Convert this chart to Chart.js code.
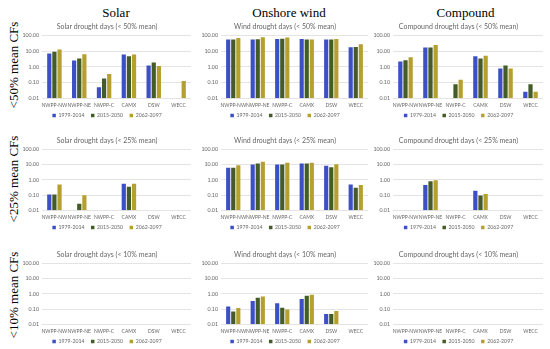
<!DOCTYPE html>
<html>
<head>
<meta charset="utf-8">
<script src="https://cdn.jsdelivr.net/npm/chart.js@4.4.0/dist/chart.umd.min.js"></script>
<style>
  html, body { margin:0; padding:0; background:#fff; }
  body { width:550px; height:349px; position:relative; overflow:hidden; }
  .colt { position:absolute; font-family:"Liberation Serif", serif; font-size:13px; color:#000; white-space:nowrap; transform:translate(-50%,-50%); }
  .rowt { position:absolute; font-family:"Liberation Serif", serif; font-size:13px; color:#000; white-space:nowrap; width:120px; height:16px; line-height:16px; text-align:center; transform:rotate(-90deg); }
  .panel { position:absolute; }
</style>
</head>
<body>
<script>
// ---- data ----
const categories = ['NWPP-NW', 'NWPP-NE', 'NWPP-C', 'CAMX', 'DSW', 'WECC'];
const periods = ['1979-2014', '2015-2050', '2062-2097'];
const yTickValues = [0.01, 0.1, 1, 10, 100];
const columnTitles = ['Solar', 'Onshore wind', 'Compound'];
const rowTitles = ['<50% mean CFs', '<25% mean CFs', '<10% mean CFs'];

const solar50_p1 = [7.2, 2.6, 0.05, 6.2, 1.25, null];
const solar50_p2 = [9.2, 3.5, 0.18, 4.9, 1.9, null];
const solar50_p3 = [12.9, 6.5, 0.35, 6.2, 1.13, 0.126];

const wind50_p1 = [56, 56, 61, 61, 56, 18];
const wind50_p2 = [56, 58, 64, 56, 56, 19];
const wind50_p3 = [71, 78, 75, 56, 61, 28];

const comp50_p1 = [2.2, 17.3, null, 4.9, 0.8, 0.026];
const comp50_p2 = [2.7, 17.3, 0.078, 3.5, 1.25, 0.078];
const comp50_p3 = [4.2, 25.6, 0.153, 5.1, 0.8, 0.026];

const solar25_p1 = [0.112, null, null, 0.56, null, null];
const solar25_p2 = [0.11, 0.027, null, 0.36, null, null];
const solar25_p3 = [0.51, 0.10, null, 0.56, null, null];

const wind25_p1 = [6.3, 10.4, 10.4, 12, 8.5, 0.51];
const wind25_p2 = [6.3, 12.1, 10.4, 12, 6.9, 0.31];
const wind25_p3 = [9.4, 15.6, 13.4, 13.8, 10.9, 0.46];

const comp25_p1 = [null, 0.46, null, 0.195, null, null];
const comp25_p2 = [null, 0.83, null, 0.096, null, null];
const comp25_p3 = [null, 0.97, null, 0.118, null, null];

const solar10_p1 = [null, null, null, null, null, null];
const solar10_p2 = [null, null, null, null, null, null];
const solar10_p3 = [null, null, null, null, null, null];

const wind10_p1 = [0.15, 0.34, 0.24, 0.46, 0.048, null];
const wind10_p2 = [0.071, 0.56, 0.124, 0.76, 0.048, null];
const wind10_p3 = [0.117, 0.69, 0.096, 0.88, 0.075, null];

const comp10_p1 = [null, null, null, null, null, null];
const comp10_p2 = [null, null, null, null, null, null];
const comp10_p3 = [null, null, null, null, null, null];

// ---- layout / style ----
const colors = ['#3d4fc4', '#445c27', '#b5a02f'];
const FONT = 'Lato, "Open Sans", sans-serif';
const colL = [42, 221, 392.5], colR = [191, 368, 542.5], colC = [109, 285, 460];
const rowT = [35.3, 150, 263.3], rowB = [98.3, 211, 324.3];
const colTitleX = [116, 289, 465.5];
const rowTitleY = [65, 179, 295];
const LEGEND_SHIFT = 3;

columnTitles.forEach((t, i) => {
  const d = document.createElement('div'); d.className = 'colt'; d.textContent = t;
  d.style.left = colTitleX[i] + 'px'; d.style.top = '13px'; document.body.appendChild(d);
});
rowTitles.forEach((t, i) => {
  const d = document.createElement('div'); d.className = 'rowt'; d.textContent = t;
  d.style.left = (14 - 60) + 'px'; d.style.top = (rowTitleY[i] - 8) + 'px'; document.body.appendChild(d);
});

const panels = [
  {row:0, col:0, title:'Solar drought days (< 50% mean)', series:[solar50_p1, solar50_p2, solar50_p3]},
  {row:0, col:1, title:'Wind drought days (< 50% mean)', series:[wind50_p1, wind50_p2, wind50_p3]},
  {row:0, col:2, title:'Compound drought days (< 50% mean)', series:[comp50_p1, comp50_p2, comp50_p3]},
  {row:1, col:0, title:'Solar drought days (< 25% mean)', series:[solar25_p1, solar25_p2, solar25_p3]},
  {row:1, col:1, title:'Wind drought days (< 25% mean)', series:[wind25_p1, wind25_p2, wind25_p3]},
  {row:1, col:2, title:'Compound drought days (< 25% mean)', series:[comp25_p1, comp25_p2, comp25_p3]},
  {row:2, col:0, title:'Solar drought days (< 10% mean)', series:[solar10_p1, solar10_p2, solar10_p3]},
  {row:2, col:1, title:'Wind drought days (< 10% mean)', series:[wind10_p1, wind10_p2, wind10_p3]},
  {row:2, col:2, title:'Compound drought days (< 10% mean)', series:[comp10_p1, comp10_p2, comp10_p3]},
];

const legendLift = {
  id: 'legendLift',
  afterLayout(chart) {
    const lg = chart.legend;
    if (lg) { lg.top -= LEGEND_SHIFT; lg.bottom -= LEGEND_SHIFT; }
  }
};

function config(p, padR) {
  return {
    type: 'bar',
    data: {
      labels: categories,
      datasets: periods.map((name, i) => ({
        label: name, data: p.series[i], backgroundColor: colors[i], borderWidth: 0,
        categoryPercentage: 0.62, barPercentage: 0.82
      }))
    },
    plugins: [legendLift],
    options: {
      responsive: false, maintainAspectRatio: false, animation: false, devicePixelRatio: 1,
      layout: { padding: { left: 0, right: padR, top: 0, bottom: 0 } },
      plugins: {
        title: { display: true, text: p.title, color: '#666666', font: { family: FONT, size: 7.0, weight: 'normal' }, padding: { top: 0, bottom: 4.2 } },
        legend: { display: true, position: 'bottom',
          labels: { boxWidth: 3.5, boxHeight: 3.5, padding: 6.5, color: '#666666', font: { family: FONT, size: 5.2 } } },
        tooltip: { enabled: false }
      },
      scales: {
        x: {
          grid: { display: false, drawTicks: false }, border: { display: false },
          ticks: { color: '#666666', font: { family: FONT, size: 5.0 }, padding: 4.3, maxRotation: 0, minRotation: 0, autoSkip: false },
          afterFit: (a) => { a.height = 11; }
        },
        y: {
          type: 'logarithmic', min: 0.01, max: 100,
          grid: { color: '#d9d9d9', lineWidth: 0.7, drawTicks: false }, border: { display: false },
          afterBuildTicks: (a) => { a.ticks = yTickValues.map(v => ({ value: v })); },
          ticks: { color: '#666666', font: { family: FONT, size: 5.3 }, padding: 3, callback: (v) => Number(v).toFixed(2) },
          afterFit: (a) => { a.width = 19; }
        }
      }
    }
  };
}

panels.forEach(p => {
  const div = document.createElement('div'); div.className = 'panel';
  const canvas = document.createElement('canvas'); div.appendChild(canvas); document.body.appendChild(div);
  const L = colL[p.col], R = colR[p.col], T = rowT[p.row], B = rowB[p.row], C = colC[p.col];
  function build(w, h, padR) {
    canvas.width = w; canvas.height = h; canvas.style.width = w + 'px'; canvas.style.height = h + 'px';
    return new Chart(canvas, config(p, padR));
  }
  const w0 = Math.round(R - L + 60), h0 = Math.round(B - T + 60);
  let ch = build(w0, h0, 0);
  const a = ch.chartArea;
  const ovL = a.left, ovR = w0 - a.right, ovT = a.top, ovB = h0 - a.bottom;
  ch.destroy();
  const cLeft = L - ovL;
  const cRight = Math.max(2 * C - cLeft, R + ovR);
  const padR = cRight - R - ovR;
  const w = Math.round(cRight - cLeft), h = Math.round(ovT + (B - T) + ovB);
  build(w, h, padR);
  div.style.left = cLeft + 'px'; div.style.top = (T - ovT) + 'px';
});
</script>
</body>
</html>
